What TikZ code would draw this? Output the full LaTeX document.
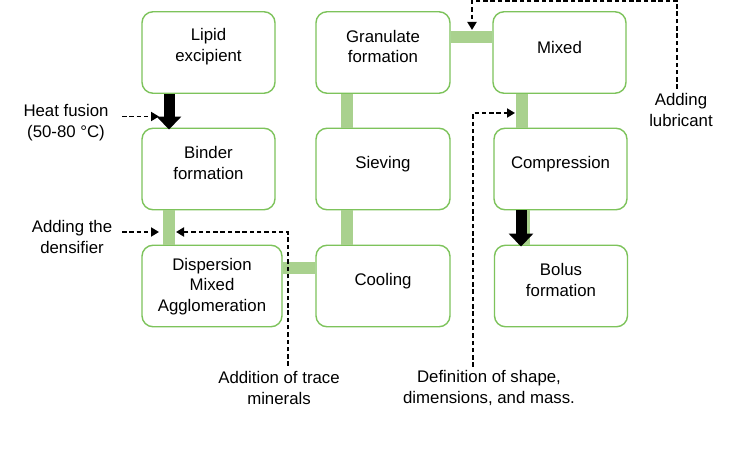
\documentclass[tikz,border=0pt]{standalone}
\usepackage{fontspec}
\setmainfont{Liberation Sans}
\usetikzlibrary{arrows.meta,calc}
\definecolor{boxgreen}{HTML}{7DC35B}
\definecolor{linkgreen}{HTML}{A9D18E}
\begin{document}
\begin{tikzpicture}[x=1pt,y=-1pt,
  box/.style={draw=boxgreen,line width=1.4pt,rounded corners=11pt,minimum width=133pt,minimum height=81.5pt,inner sep=0pt,fill=white},
  txt/.style={align=center,font=\fontsize{16.8}{20.7}\selectfont,inner sep=0pt},
  link/.style={draw=linkgreen,line width=12pt},
  bigarrow/.style={draw=black,line width=11pt,-{Triangle[width=24pt,length=13pt]}},
  dasharrow/.style={draw=black,line width=1.8pt,dash pattern=on 4.5pt off 2.8pt,-{Triangle[width=9pt,length=8pt]}}]
\useasboundingbox (0,0) rectangle (737,454);
\fill[white] (0,0) rectangle (737,454);
% column / row references
\coordinate (c169) at (169,0);
\coordinate (c347) at (347,0);
\coordinate (c522) at (522,0);
\coordinate (c521) at (521,0);
\coordinate (r37) at (0,37);
\coordinate (r268) at (0,268);
% boxes
\node[box] (lipid) at (208.5,52.5) {};
\node[box] (binder) at (208.5,169) {};
\node[box,minimum width=140pt] (disp) at (212,286) {};
\node[box,minimum width=134pt] (gran) at (383,52.5) {};
\node[box,minimum width=134pt] (sieve) at (383,169) {};
\node[box,minimum width=134pt] (cool) at (383,286) {};
\node[box] (mixed) at (559.5,52.5) {};
\node[box] (comp) at (560.5,169) {};
\node[box] (bolus) at (561,286) {};
% box texts
\node[txt] (lipidt) at (208.5,47) {Lipid\\excipient};
\node[txt] (bindert) at (208.5,163) {Binder\\formation};
\node[txt] (dispt) at (212,286.5) {Dispersion\\Mixed\\Agglomeration};
\node[txt] (grant) at (383,46.5) {Granulate\\formation};
\node[txt] (sievet) at (383,164) {Sieving};
\node[txt] (coolt) at (383,281) {Cooling};
\node[txt] (mixedt) at (559.5,47) {Mixed};
\node[txt] (compt) at (560.5,164) {Compression};
\node[txt] (bolust) at (561,280) {Bolus\\formation};
% green links
\draw[link] (gran.east |- r37) -- (mixed.west |- r37);
\draw[link] (gran.south -| c347) -- (sieve.north -| c347);
\draw[link] (sieve.south -| c347) -- (cool.north -| c347);
\draw[link] (mixed.south -| c522) -- (comp.north -| c522);
\draw[link] (binder.south -| c169) -- (disp.north -| c169);
\draw[link] (disp.east |- r268) -- (cool.west |- r268);
\draw[link] ([xshift=2pt]comp.south -| c522) -- ([xshift=2pt]bolus.north -| c522);
% black arrows
\draw[bigarrow] (lipid.south -| c169) -- ($(binder.north -| c169)+(0,2)$);
\draw[bigarrow] (comp.south -| c521) -- ($(bolus.north -| c521)+(0,2)$);
% side labels
\node[txt] (heat) at (66,122.5) {Heat fusion\\(50-80 °C)};
\node[txt] (dens) at (72,237) {Adding the\\densifier};
\node[txt] (trace) at (279,388) {Addition of trace\\minerals};
\node[txt] (defn) at (489,388) {Definition of shape,\\dimensions, and mass.};
\node[txt] (lub) at (681,110) {Adding\\lubricant};
% dashed arrows
\coordinate (hfS) at (122,116.5);
\coordinate (hfE) at (159,116.5);
\coordinate (dsS) at (122,232);
\coordinate (dsE) at (159,232);
\coordinate (trS) at (288,366);
\coordinate (trE) at (176,232);
\coordinate (dfS) at (473,367);
\coordinate (dfE) at (515,113);
\coordinate (lbS) at (677,89);
\coordinate (lbT) at (472,1);
\coordinate (lbE) at (472,30);
\draw[dasharrow] (hfS) -- (hfE);
\draw[dasharrow] (dsS) -- (dsE);
\draw[dasharrow] (trS) |- (trE);
\draw[dasharrow] (dfS) |- (dfE);
\draw[dasharrow] (lbS) |- (lbT) -- (lbE);
\end{tikzpicture}
\end{document}
